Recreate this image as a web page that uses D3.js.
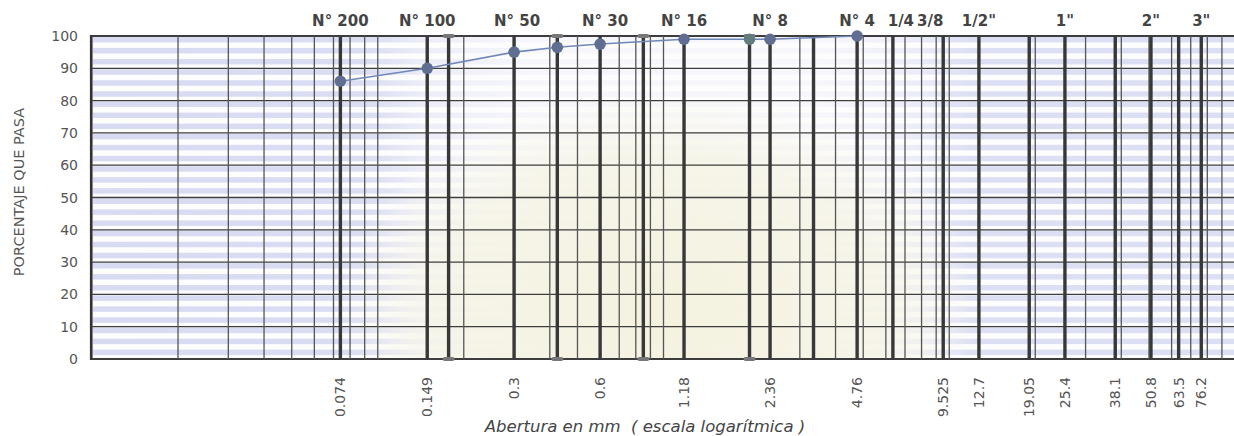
<!DOCTYPE html>
<html>
<head>
<meta charset="utf-8">
<script src="https://cdn.jsdelivr.net/npm/d3@7"></script>
<style>
	body { margin: 0; background: #fff; }
	svg { display: block; }
	text { font-family: "DejaVu Sans", sans-serif; }
</style>
</head>
<body>
<div class="granulometria"></div>
<script>
// sieve openings (mm) shown on the bottom axis
const sieveSizes = [0.074, 0.149, 0.3, 0.6, 1.18, 2.36, 4.76, 9.525, 12.7, 19.05, 25.4, 38.1, 50.8, 63.5, 76.2];
const sieveTickLabels = ["0.074", "0.149", "0.3", "0.6", "1.18", "2.36", "4.76", "9.525", "12.7", "19.05", "25.4", "38.1", "50.8", "63.5", "76.2"];
// other sieves drawn as heavy lines without a label
const extraSieves = [0.177, 0.425, 0.85, 2.0, 3.35, 6.35];
// sieve names along the top
const sieveNames = ["N° 200", "N° 100", "N° 50", "N° 30", "N° 16", "N° 8", "N° 4", "1/4", "3/8", "1/2\"", "1\"", "2\"", "3\""];
const sieveNameSizes = [0.074, 0.149, 0.3, 0.6, 1.18, 2.36, 4.76, 6.35, 9.525, 12.7, 25.4, 50.8, 76.2];
const percentTicks = [0, 10, 20, 30, 40, 50, 60, 70, 80, 90, 100];
// grading curve
const sampleSizes = [0.074, 0.149, 0.3, 0.425, 0.6, 1.18, 2.0, 2.36, 4.76];
const samplePassing = [86, 90, 95, 96.5, 97.5, 99, 99, 99, 100];

(function () {
	drawChart();
}());

function drawChart() {

	const widthSVG = 1234,
		heightSVG = 436;
	const left = 91, right = 1234, top = 36, bottom = 359;

	const svg = d3.select(".granulometria").append("svg")
		.attr("width", widthSVG)
		.attr("height", heightSVG);

	const x = d3.scaleLog().domain([0.01, 100]).range([92, 1235]);
	const y = d3.scaleLinear().domain([0, 100]).range([bottom, top]);

	const defs = svg.append("defs");
	const stripeGrad = defs.append("linearGradient")
		.attr("id", "stripeGrad")
		.attr("gradientUnits", "userSpaceOnUse")
		.attr("x1", left).attr("x2", right).attr("y1", 0).attr("y2", 0);
	[[0, 0.75], [0.24, 0.7], [0.29, 0.35], [0.38, 0.15], [0.64, 0.14], [0.72, 0.35], [0.77, 0.65], [1, 0.65]]
		.forEach(function (s) {
			stripeGrad.append("stop")
				.attr("offset", s[0])
				.attr("stop-color", "#cbcfee")
				.attr("stop-opacity", s[1]);
		});
	const beige = defs.append("radialGradient")
		.attr("id", "beige")
		.attr("gradientUnits", "userSpaceOnUse")
		.attr("cx", 660).attr("cy", 310).attr("r", 320)
		.attr("gradientTransform", "translate(660,310) scale(1,0.7) translate(-660,-310)");
	beige.append("stop").attr("offset", 0).attr("stop-color", "#f4f1de").attr("stop-opacity", 1);
	beige.append("stop").attr("offset", 0.7).attr("stop-color", "#f6f4e6").attr("stop-opacity", 0.85);
	beige.append("stop").attr("offset", 1).attr("stop-color", "#f8f6ee").attr("stop-opacity", 0);

	const plot = svg.append("g");

	plot.append("rect")
		.attr("x", left).attr("y", top)
		.attr("width", right - left).attr("height", bottom - top)
		.attr("fill", "#fdfdfd");

	// hatched blue rows of the printed form
	const stripes = [];
	d3.range(0, 100, 10).forEach(function (p) {
		[1.2, 4.6, 8.0].forEach(function (o) { stripes.push(p + o); });
	});
	plot.selectAll(".stripe")
		.data(stripes)
		.enter().append("rect")
		.attr("class", "stripe")
		.attr("x", left + 2)
		.attr("y", function (d) { return y(d + 1.7); })
		.attr("width", right - left - 2)
		.attr("height", function (d) { return y(d) - y(d + 1.7); })
		.attr("fill", "url(#stripeGrad)");

	plot.append("rect")
		.attr("x", 340).attr("y", 100)
		.attr("width", 640).attr("height", bottom - 100)
		.attr("fill", "url(#beige)");

	// horizontal grid
	plot.selectAll(".hgrid")
		.data(percentTicks)
		.enter().append("line")
		.attr("class", "hgrid")
		.attr("x1", left).attr("x2", right)
		.attr("y1", function (d) { return y(d); })
		.attr("y2", function (d) { return y(d); })
		.attr("stroke", "#3d3d3d")
		.attr("stroke-width", function (d) { return d === 0 || d === 100 ? 2 : 1.3; });

	// log grid
	plot.selectAll(".vminor")
		.data(x.ticks())
		.enter().append("line")
		.attr("class", "vminor")
		.attr("x1", function (d) { return x(d); })
		.attr("x2", function (d) { return x(d); })
		.attr("y1", top).attr("y2", bottom)
		.attr("stroke", "#555")
		.attr("stroke-width", 1.3);

	// sieve lines
	plot.selectAll(".vsieve")
		.data(sieveSizes.concat(extraSieves))
		.enter().append("line")
		.attr("class", "vsieve")
		.attr("x1", function (d) { return x(d); })
		.attr("x2", function (d) { return x(d); })
		.attr("y1", top).attr("y2", bottom)
		.attr("stroke", "#383838")
		.attr("stroke-width", 3.4);

	// little caps on the unlabelled sieves
	const caps = extraSieves.slice(0, 4);
	[top, bottom].forEach(function (yy) {
		plot.selectAll(null)
			.data(caps)
			.enter().append("rect")
			.attr("x", function (d) { return x(d) - 6; })
			.attr("y", yy - 2)
			.attr("width", 12).attr("height", 4)
			.attr("rx", 2)
			.attr("fill", "#777");
	});

	// left border
	plot.append("line")
		.attr("x1", left).attr("x2", left)
		.attr("y1", top - 1).attr("y2", bottom + 1)
		.attr("stroke", "#333")
		.attr("stroke-width", 2.2);

	// grading curve
	const points = sampleSizes.map(function (s, i) {
		return {size: s, pass: samplePassing[i]};
	});
	const line = d3.line()
		.x(function (d) { return x(d.size); })
		.y(function (d) { return y(d.pass); });
	plot.append("path")
		.datum(points)
		.attr("d", line)
		.attr("fill", "none")
		.attr("stroke", "#7088b8")
		.attr("stroke-width", 1.6);
	plot.selectAll(".dot")
		.data(points)
		.enter().append("circle")
		.attr("class", "dot")
		.attr("cx", function (d) { return x(d.size); })
		.attr("cy", function (d) { return y(d.pass); })
		.attr("r", 5.8)
		.attr("fill", function (d) { return d.size === 2.0 ? "#5f7e7c" : "#5f6e91"; });

	// y axis labels
	svg.selectAll(".ylab")
		.data(percentTicks)
		.enter().append("text")
		.attr("class", "ylab")
		.attr("x", 78)
		.attr("y", function (d) { return y(d); })
		.attr("dy", "0.36em")
		.attr("text-anchor", "end")
		.attr("font-size", 14)
		.attr("fill", "#555")
		.text(function (d) { return d; });

	svg.append("text")
		.attr("transform", "translate(24,192) rotate(-90)")
		.attr("text-anchor", "middle")
		.attr("font-size", 14.5)
		.attr("fill", "#555")
		.text("PORCENTAJE QUE PASA");

	// bottom sieve openings
	svg.selectAll(".xlab")
		.data(sieveSizes)
		.enter().append("text")
		.attr("class", "xlab")
		.attr("transform", function (d) { return "translate(" + x(d) + ",377) rotate(-90)"; })
		.attr("dy", "0.36em")
		.attr("text-anchor", "end")
		.attr("font-size", 14)
		.attr("fill", "#555")
		.text(function (d, i) { return sieveTickLabels[i]; });

	svg.append("text")
		.attr("x", 645)
		.attr("y", 432)
		.attr("text-anchor", "middle")
		.attr("font-size", 16.5)
		.attr("font-style", "italic")
		.attr("fill", "#444")
		.style("white-space", "pre")
		.text("Abertura en mm  ( escala logarítmica )");

	// sieve names on top
	const nudge = {"1/4": 8, "3/8": -13, "N° 50": 3, "N° 30": 5};
	svg.selectAll(".tlab")
		.data(sieveNames)
		.enter().append("text")
		.attr("class", "tlab")
		.attr("x", function (d, i) { return x(sieveNameSizes[i]) + (nudge[d] || 0); })
		.attr("y", 26)
		.attr("text-anchor", "middle")
		.attr("font-size", 15)
		.attr("font-weight", "bold")
		.attr("fill", "#444")
		.text(function (d) { return d; });
}
</script>
</body>
</html>
